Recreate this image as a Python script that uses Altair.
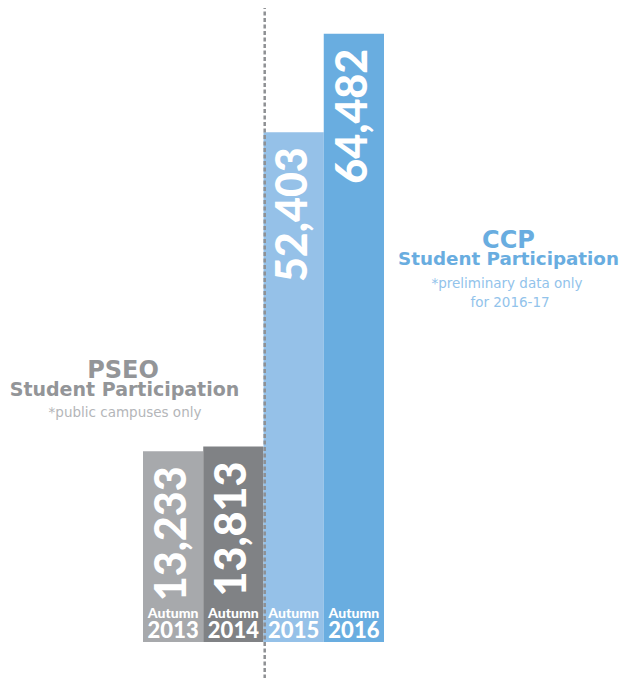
import altair as alt
import pandas as pd

years = ["2013", "2014", "2015", "2016"]
season = ["Autumn", "Autumn", "Autumn", "Autumn"]
values = [13233, 13813, 52403, 64482]
bar_colors = ["#a7a9ac", "#808285", "#95c1e8", "#69ade0"]

df = pd.DataFrame({"year": years, "season": season, "value": values})

W, H = 615, 670
BOTTOM = 634
BASE = -10169

x_enc = alt.X("year:N", sort=years, axis=None,
              scale=alt.Scale(range=[135, 376], paddingInner=0, paddingOuter=0))
y_scale = alt.Scale(domain=[BASE, 64700], range=[BOTTOM, 24], zero=False, nice=False)

base = alt.Chart(df)

bars = base.mark_bar(cornerRadius=0).encode(
    x=x_enc,
    y=alt.Y("value:Q", scale=y_scale, axis=None),
    y2=alt.datum(BASE),
    color=alt.Color("year:N", sort=years, legend=None,
                    scale=alt.Scale(domain=years, range=bar_colors)),
)

nums = base.mark_text(angle=270, align="right", baseline="middle", dx=-15,
                      font="Lato", fontWeight=900, fontSize=43, color="white").encode(
    x=x_enc,
    y=alt.Y("value:Q", scale=y_scale, axis=None),
    text=alt.Text("value:Q", format=","),
)

autumn = base.mark_text(align="center", baseline="alphabetic", font="Lato",
                        fontWeight=900, fontSize=14, color="white").encode(
    x=x_enc, y=alt.value(610), text="season:N")

yr = base.mark_text(align="center", baseline="alphabetic", font="Lato",
                    fontWeight=900, fontSize=22, color="white").encode(
    x=x_enc, y=alt.value(629.5), text="year:N")

one = alt.Data(values=[{"k": 1}])

rule = alt.Chart(one).mark_rule(color="#8e9093", strokeWidth=2.5, strokeDash=[4, 2.5]).encode(
    x=alt.value(256.7), y=alt.value(-3), y2=alt.value(H))


def label(txt, x, y, size, color, weight="bold", font="DejaVu Sans"):
    return alt.Chart(one).mark_text(text=txt, align="center", baseline="alphabetic",
                                    font=font, fontWeight=weight, fontSize=size,
                                    color=color).encode(x=alt.value(x), y=alt.value(y))


annos = [
    label("PSEO", 115, 370, 24, "#939598"),
    label("Student Participation", 116.5, 388, 19, "#939598"),
    label("*public campuses only", 117, 409, 13.5, "#b4b6b9", weight="normal"),
    label("CCP", 500.5, 240, 24, "#69ade0"),
    label("Student Participation", 500.5, 257, 18.3, "#69ade0"),
    label("*preliminary data only", 499, 280, 13.5, "#92c3eb", weight="normal"),
    label("for 2016-17", 502, 299, 13.5, "#92c3eb", weight="normal"),
]

chart = alt.layer(bars, nums, autumn, yr, rule, *annos).properties(
    width=W, height=H, padding=0, autosize=alt.AutoSizeParams(type="none")
).configure_view(stroke=None)

chart.save("out.html", embed_options={"renderer": "svg", "actions": False})
